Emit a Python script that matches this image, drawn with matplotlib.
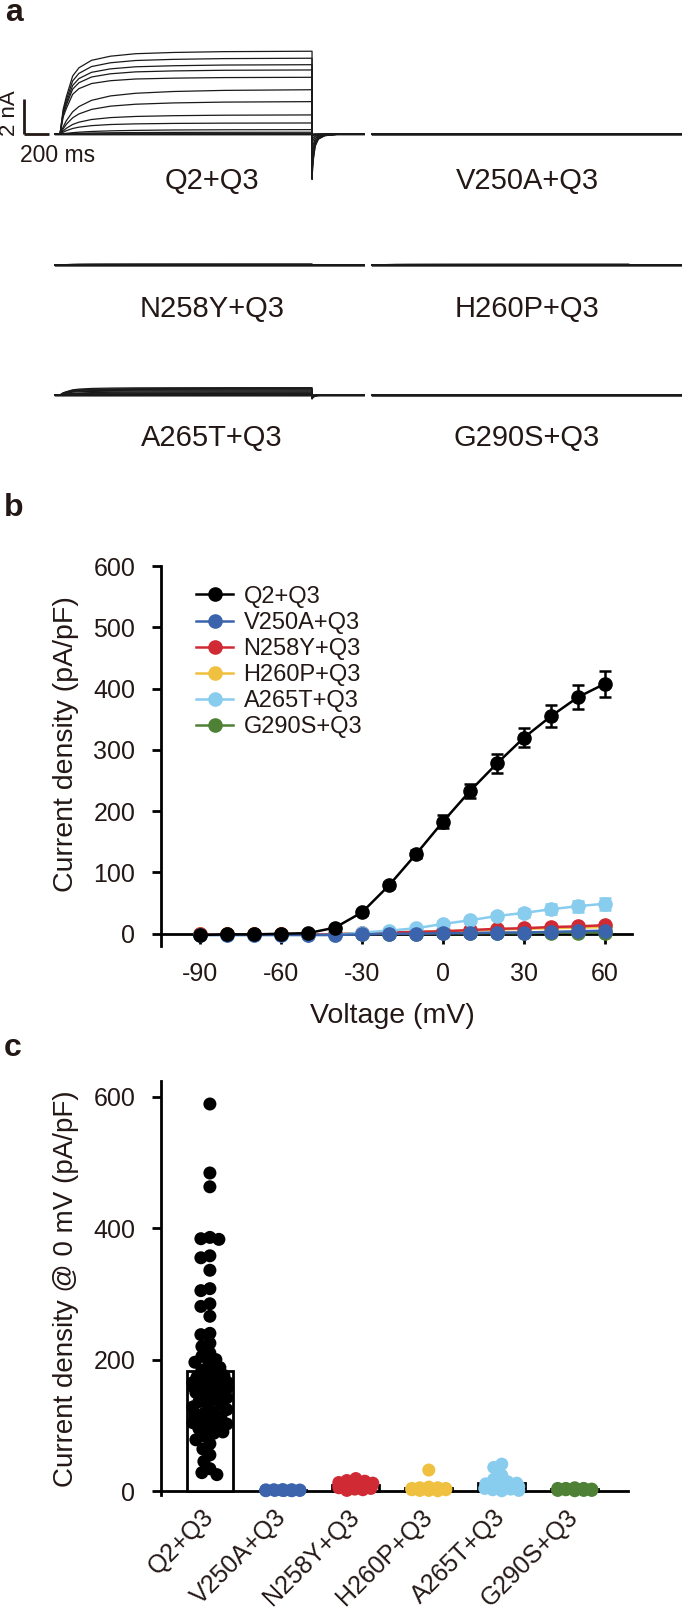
import numpy as np
import matplotlib
matplotlib.use("Agg")
import matplotlib.pyplot as plt

W, H = 685, 1614
plt.rcParams['font.family'] = ['Liberation Sans', 'DejaVu Sans']
plt.rcParams['axes.unicode_minus'] = False
TXT = '#231815'

# ---------------- data ----------------
groups = ['Q2+Q3', 'V250A+Q3', 'N258Y+Q3', 'H260P+Q3', 'A265T+Q3', 'G290S+Q3']
colors = ['#000000', '#3B64AD', '#D02A34', '#F0C040', '#88CCEE', '#4E8136']

# panel b: I-V curves (pA/pF)
voltages = [-90, -80, -70, -60, -50, -40, -30, -20, -10, 0, 10, 20, 30, 40, 50, 60]
iv_q2q3 = [-2, -1, -1, 0, 1, 10, 35, 79, 130, 183, 233, 278, 320, 355, 386, 408]
err_q2q3 = [2, 1, 1, 1, 2, 3, 4, 5, 6, 10, 11, 15, 16, 18, 20, 21]
iv_v250a = [-2, -2, -2, -2, -2, -2, -1, 0, 0, 1, 1, 2, 2, 3, 4, 5]
iv_n258y = [-1, -1, -1, -1, -1, -1, 1, 2, 3, 4, 6, 8, 9, 11, 12, 14]
iv_h260p = [-1, -1, -1, -1, -1, -1, 1, 2, 3, 4, 5, 7, 8, 9, 10, 11]
iv_a265t = [-2, -2, -2, -2, -2, -2, 2, 5, 9, 16, 22, 29, 34, 40, 45, 49]
err_a265t = [1, 1, 1, 1, 1, 1, 1, 2, 2, 3, 4, 5, 7, 8, 9, 10]
iv_g290s = [-1, -1, -1, -1, -1, -1, 0, 0, 0, 1, 1, 1, 1, 2, 2, 2]

# panel c: current density at 0 mV, individual cells (pA/pF)
pts_q2q3 = [589, 484, 463, 386, 384, 383, 358, 355, 336, 308, 305, 285, 281, 266,
            240, 238, 225, 220, 210, 205, 200, 196, 192, 188, 184, 180, 176, 173,
            170, 168, 166, 165, 164, 162, 160, 158, 156, 155, 152, 150, 147, 144,
            142, 140, 136, 132, 130, 128, 124, 120, 118, 116, 112, 110, 108, 104,
            102, 100, 96, 95, 90, 88, 84, 78, 72, 64, 55, 45, 34, 28, 25]
pts_v250a = [1, 2, 1, 0.5, 2, 1.5, 1, 0.8, 2.2, 1.2, 0.6, 1.8, 1.4]
pts_n258y = [19, 16, 15, 13, 12, 11, 10, 9, 8, 7, 6, 5, 4, 3, 2, 1, 12, 8]
pts_h260p = [32, 6, 5, 4, 4, 3, 3, 2, 2, 1, 1, 0.5, 3, 5]
pts_a265t = [41, 36, 24, 18, 14, 12, 10, 8, 7, 5, 4, 3, 2, 1, 0.5, 9, 11]
pts_g290s = [5, 4, 4, 3, 3, 3, 2, 2, 2, 1, 1, 4, 3, 2, 1, 0.5]

# panel a: steady-state current of each voltage step (nA), -90..+60 mV
lvl_q2q3 = [0, 0, 0, 0, 0.02, 0.1, 0.25, 0.63, 1.09, 1.85, 2.53, 3.24, 3.66, 3.96, 4.33, 4.73]
lvl_v250a = [0, 0, 0, 0, 0, 0, 0, 0, 0, 0, 0.01, 0.01, 0.01, 0.02, 0.02, 0.02]
lvl_n258y = [0, 0, 0, 0, 0, 0, 0, 0, 0.01, 0.01, 0.02, 0.02, 0.03, 0.03, 0.04, 0.05]
lvl_h260p = [0, 0, 0, 0, 0, 0, 0, 0, 0.01, 0.01, 0.01, 0.02, 0.02, 0.03, 0.03, 0.04]
lvl_a265t = [0, 0, 0, 0, 0, 0, 0.02, 0.05, 0.08, 0.13, 0.18, 0.23, 0.28, 0.33, 0.37, 0.42]
lvl_g290s = [0, 0, 0, 0, 0, 0, 0, 0, 0, 0, 0, 0.01, 0.01, 0.01, 0.01, 0.01]
# activation time course (fraction of steady state)
act_time = [0, 10, 25, 50, 100, 150, 250, 400, 600, 900, 1300, 2000]
act_fast = [0, 0.12, 0.3, 0.45, 0.7, 0.8, 0.89, 0.94, 0.97, 0.985, 0.995, 1.0]
act_mid = [0, 0.06, 0.16, 0.3, 0.5, 0.62, 0.76, 0.86, 0.92, 0.96, 0.985, 1.0]
act_slow = [0, 0.03, 0.08, 0.15, 0.3, 0.42, 0.58, 0.72, 0.83, 0.92, 0.97, 1.0]
step_profile = ['slow'] * 7 + ['mid'] * 4 + ['fast'] * 5
# capacitive/tail transient after the step (nA, for the largest trace)
tail_time = [2000, 2003, 2010, 2025, 2050, 2100, 2200, 2420]
tail_top = [-2.6, -2.2, -1.5, -0.7, -0.3, -0.1, -0.02, 0]
scale_nA, scale_ms = 2, 200


def fx(x):
    return x / W


def fy(y):
    return 1 - y / H


fig = plt.figure(figsize=(W / 100, H / 100), dpi=100)


def px_axes(x0, y0, x1, y1):
    return fig.add_axes([x0 / W, 1 - y1 / H, (x1 - x0) / W, (y1 - y0) / H])


# ---------------- panel a ----------------
PX_MS, PX_NA = 0.126, 17.5
T0, T1, I0, I1 = -317, 2420, -3.2, 5.6
profiles = {'fast': act_fast, 'mid': act_mid, 'slow': act_slow}
levels = [lvl_q2q3, lvl_v250a, lvl_n258y, lvl_h260p, lvl_a265t, lvl_g290s]
row_base = [134, 265, 395]
col_start = [55, 372]
label_y = [181, 309, 438]
label_x = [212, 527]
amp_ref = max(lvl_q2q3)
for k, lv in enumerate(levels):
    r, c = divmod(k, 2)
    base, xs = row_base[r], col_start[c]
    left = xs - (-40 - T0) * PX_MS
    right = left + (T1 - T0) * PX_MS
    ax = px_axes(left, base - I1 * PX_NA, right, base - I0 * PX_NA)
    ax.set_xlim(T0, T1)
    ax.set_ylim(I0, I1)
    ax.axis('off')
    ax.patch.set_alpha(0)
    for amp, prof in zip(lv, step_profile):
        p = np.array(profiles[prof])
        t = np.concatenate([[-40, 0], act_time[1:], tail_time])
        y = np.concatenate([[0, 0], amp * p[1:], amp / amp_ref * np.array(tail_top)])
        ax.plot(t, y, color='#1a1a1a', lw=0.9)
    if k == 0:
        ax.plot([-286, -286], [0, scale_nA], color=TXT, lw=2, solid_capstyle='butt')
        ax.plot([-286, -286 + scale_ms], [0, 0], color=TXT, lw=2, solid_capstyle='butt')
    fig.text(fx(label_x[c]), fy(label_y[r]), groups[k], ha='center', va='center',
             fontsize=21, color=TXT)

fig.text(fx(10), fy(113), '2 nA', rotation=90, ha='center', va='center', fontsize=16, color=TXT)
fig.text(fx(58), fy(156), '200 ms', ha='center', va='center', fontsize=16.5, color=TXT)

# panel letters
for lab, (x, y) in zip('abc', [(14, 13), (14, 508), (13, 1048)]):
    fig.text(fx(x), fy(y), lab, ha='center', va='center', fontsize=23, fontweight='bold', color=TXT)

# ---------------- panel b ----------------
axb = px_axes(161, 566, 632, 946)
axb.set_xlim(-104.5, 70)
axb.set_ylim(-20, 600)
ivs = [iv_q2q3, iv_v250a, iv_n258y, iv_h260p, iv_a265t, iv_g290s]
errs = {0: err_q2q3, 4: err_a265t}
handles = [None] * 6
for i in [5, 3, 2, 4, 1, 0]:
    h, = axb.plot(voltages, ivs[i], '-o', color=colors[i], ms=9.5, lw=1.8, clip_on=False,
                  zorder=3 + (1 if i == 0 else 0), label=groups[i])
    handles[i] = h
    if i in errs:
        axb.errorbar(voltages, ivs[i], yerr=errs[i], fmt='none', ecolor=colors[i],
                     elinewidth=1.8, capsize=4, capthick=1.8, clip_on=False,
                     zorder=3 + (1 if i == 0 else 0))
leg = axb.legend(handles, groups, loc='upper left', bbox_to_anchor=(0.075, 0.948),
                 frameon=False, fontsize=17, handlelength=1.55, handletextpad=0.45,
                 labelspacing=0.17, borderpad=0, borderaxespad=0)
for t in leg.get_texts():
    t.set_color(TXT)
for s in ['top', 'right']:
    axb.spines[s].set_visible(False)
axb.spines['bottom'].set_position(('data', 0))
for s in ['bottom', 'left']:
    axb.spines[s].set_linewidth(2)
axb.set_xticks([-90, -60, -30, 0, 30, 60])
axb.set_yticks([0, 100, 200, 300, 400, 500, 600])
axb.tick_params(axis='x', length=7, width=2, pad=13, labelsize=18, labelcolor=TXT)
axb.tick_params(axis='y', length=6.5, width=2, pad=12, labelsize=18, labelcolor=TXT)
fig.text(fx(66), fy(744), 'Current density (pA/pF)', rotation=90, ha='center', va='center',
         fontsize=20.5, color=TXT)
fig.text(fx(392), fy(1016), 'Voltage (mV)', ha='center', va='center', fontsize=20.5, color=TXT)

# ---------------- panel c ----------------
axc = px_axes(161, 1081, 628, 1495)
axc.set_xlim(-0.67, 5.73)
axc.set_ylim(-6, 624)
pts = [pts_q2q3, pts_v250a, pts_n258y, pts_h260p, pts_a265t, pts_g290s]
PPU_X = 73.0
PPU_Y = 414 / 630.0
DIAM = 8.5   # allowed spacing between dot centres (dots overlap partly)


def swarm(vals, maxpx=17.0):
    vals = np.asarray(vals, float)
    cand = sorted(np.arange(-maxpx, maxpx + 0.01, 1.0), key=lambda v: (abs(v), v))
    placed = []
    offs = np.zeros(len(vals))
    for i in np.argsort(-vals):
        yp = vals[i] * PPU_Y
        best, bestov = 0.0, np.inf
        for cx in cand:
            ov = 0.0
            for (px, py) in placed:
                d = np.hypot(px - cx, py - yp)
                if d < DIAM:
                    ov += DIAM - d
            if ov == 0:
                best = cx
                break
            if ov < bestov:
                bestov, best = ov, cx
        placed.append((best, yp))
        offs[i] = best / PPU_X
    return offs


for i, v in enumerate(pts):
    axc.bar(i, np.mean(v), width=0.64, facecolor='white', edgecolor='black', lw=2, zorder=2)
    off = swarm(v)
    axc.scatter(i + off, v, s=88, color=colors[i], edgecolors='none', zorder=3, clip_on=False)
for s in ['top', 'right']:
    axc.spines[s].set_visible(False)
axc.spines['bottom'].set_position(('data', 0))
for s in ['bottom', 'left']:
    axc.spines[s].set_linewidth(2)
axc.spines['bottom'].set_zorder(1)
axc.set_yticks([0, 200, 400, 600])
axc.set_xticks(range(6))
axc.set_xticklabels(groups, rotation=45, ha='right', va='center', rotation_mode='anchor')
axc.tick_params(axis='x', length=0, pad=16, labelsize=18, labelcolor=TXT)
axc.tick_params(axis='y', length=6.5, width=2, pad=12, labelsize=18, labelcolor=TXT)
fig.text(fx(66), fy(1289), 'Current density @ 0 mV (pA/pF)', rotation=90, ha='center',
         va='center', fontsize=20, color=TXT)

fig.savefig('out.png', dpi=100)
